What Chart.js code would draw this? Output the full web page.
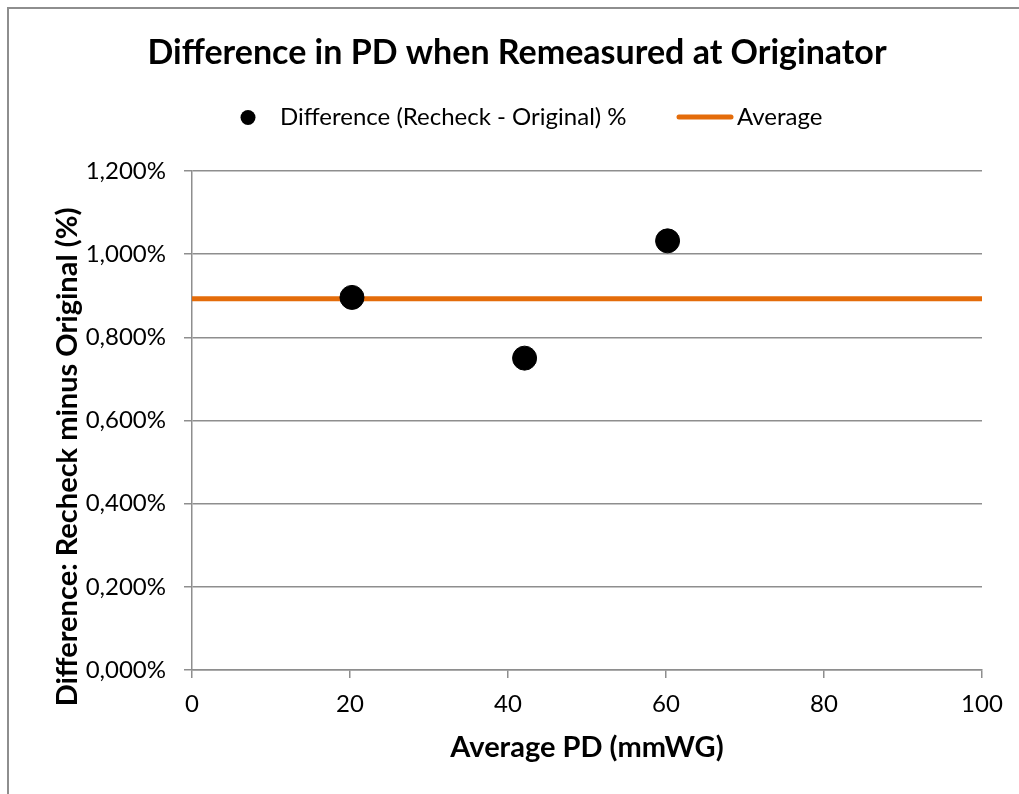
<!DOCTYPE html>
<html>
<head>
<meta charset="utf-8">
<title>Difference in PD when Remeasured at Originator</title>
<script src="https://cdn.jsdelivr.net/npm/chart.js@4.4.0/dist/chart.umd.min.js"></script>
<style>
    html, body { margin: 0; padding: 0; background: #fff; overflow: hidden; }
    #frame {
        position: absolute; left: 7px; top: 7px;
        width: 1100px; height: 900px;
        border: 2px solid #8e8e8e; box-sizing: border-box;
    }
    #wrap { position: absolute; left: 0; top: 0; width: 1019px; height: 794px; }
</style>
</head>
<body>
<div id="frame"></div>
<div id="wrap"><canvas id="pdChart" width="1019" height="794"></canvas></div>
<script>
// ===== DATOS =====
const chartTitle = 'Difference in PD when Remeasured at Originator';
const yAxisTitle = 'Difference: Recheck minus Original (%)';
const xAxisTitle = 'Average PD (mmWG)';
const seriesLabels = ['Difference (Recheck - Original) %', 'Average'];
const avgPD = [20.25, 42.1, 60.2];            // mmWG
const diffPct = [0.896, 0.750, 1.032];        // %
const averageX = [0, 100];
const averageY = [0.893, 0.893];
const xTickValues = [0, 20, 40, 60, 80, 100];
const yTickValues = [0, 0.2, 0.4, 0.6, 0.8, 1.0, 1.2];

const FONT = "Lato, 'Open Sans', sans-serif";
const ORANGE = '#E46C0A';
const GRID = '#8e8e8e';

function pctLabel(v) {
    return v.toFixed(3).replace('.', ',') + '%';
}

// titulo, leyenda y titulo del eje Y dibujados a mano (posiciones como en Excel)
const headerPlugin = {
    id: 'header',
    afterDraw(chart) {
        const ctx = chart.ctx;
        ctx.save();
        ctx.fillStyle = '#000';
        ctx.textBaseline = 'alphabetic';

        ctx.font = 'bold 34px ' + FONT;
        ctx.textAlign = 'center';
        ctx.fillText(chartTitle, 517, 64);

        // leyenda
        ctx.font = '24px ' + FONT;
        ctx.textAlign = 'left';
        ctx.beginPath();
        ctx.arc(248, 117.5, 7.5, 0, Math.PI * 2);
        ctx.fill();
        ctx.fillText(seriesLabels[0], 280, 125);

        ctx.strokeStyle = ORANGE;
        ctx.lineWidth = 5;
        ctx.lineCap = 'round';
        ctx.beginPath();
        ctx.moveTo(679, 117);
        ctx.lineTo(731, 117);
        ctx.stroke();
        ctx.fillText(seriesLabels[1], 737, 125);

        // titulo eje Y (Excel lo centra en todo el grafico, no en el area)
        ctx.translate(77, 457);
        ctx.rotate(-Math.PI / 2);
        ctx.font = 'bold 29px ' + FONT;
        ctx.textAlign = 'center';
        ctx.fillText(yAxisTitle, 0, 0);
        ctx.restore();
    }
};

new Chart(document.getElementById('pdChart'), {
    type: 'scatter',
    data: {
        datasets: [
            {
                label: seriesLabels[0],
                data: avgPD.map((x, i) => ({ x: x, y: diffPct[i] })),
                backgroundColor: '#000',
                borderColor: '#000',
                pointRadius: 12,
                pointHoverRadius: 12
            },
            {
                label: seriesLabels[1],
                data: averageX.map((x, i) => ({ x: x, y: averageY[i] })),
                showLine: true,
                borderColor: ORANGE,
                borderWidth: 5,
                pointRadius: 0,
                fill: false
            }
        ]
    },
    plugins: [headerPlugin],
    options: {
        responsive: false,
        animation: false,
        events: [],
        layout: { padding: { top: 171, right: 37, left: 0, bottom: 0 } },
        plugins: {
            legend: { display: false },
            title: { display: false },
            tooltip: { enabled: false }
        },
        scales: {
            x: {
                type: 'linear',
                min: 0,
                max: 100,
                afterBuildTicks: (scale) => { scale.ticks = xTickValues.map(v => ({ value: v })); },
                afterFit: (scale) => { scale.height = 124; },
                ticks: {
                    color: '#000',
                    padding: 12,
                    font: { family: FONT, size: 24 }
                },
                grid: {
                    drawOnChartArea: false,
                    drawTicks: true,
                    tickLength: 8,
                    color: GRID,
                    lineWidth: 1.5
                },
                border: { display: true, color: GRID, width: 1.5 },
                title: {
                    display: true,
                    text: xAxisTitle,
                    color: '#000',
                    font: { family: FONT, size: 29, weight: 'bold' },
                    padding: { top: 0, bottom: 29 }
                }
            },
            y: {
                min: 0,
                max: 1.2,
                afterBuildTicks: (scale) => { scale.ticks = yTickValues.map(v => ({ value: v })); },
                afterFit: (scale) => { scale.width = 192; },
                ticks: {
                    color: '#000',
                    padding: 18,
                    font: { family: FONT, size: 24 },
                    callback: (value) => pctLabel(value)
                },
                grid: {
                    color: GRID,
                    lineWidth: 1.5,
                    tickLength: 8
                },
                border: { display: true, color: GRID, width: 1.5 },
                title: { display: false }
            }
        }
    }
});
</script>
</body>
</html>
